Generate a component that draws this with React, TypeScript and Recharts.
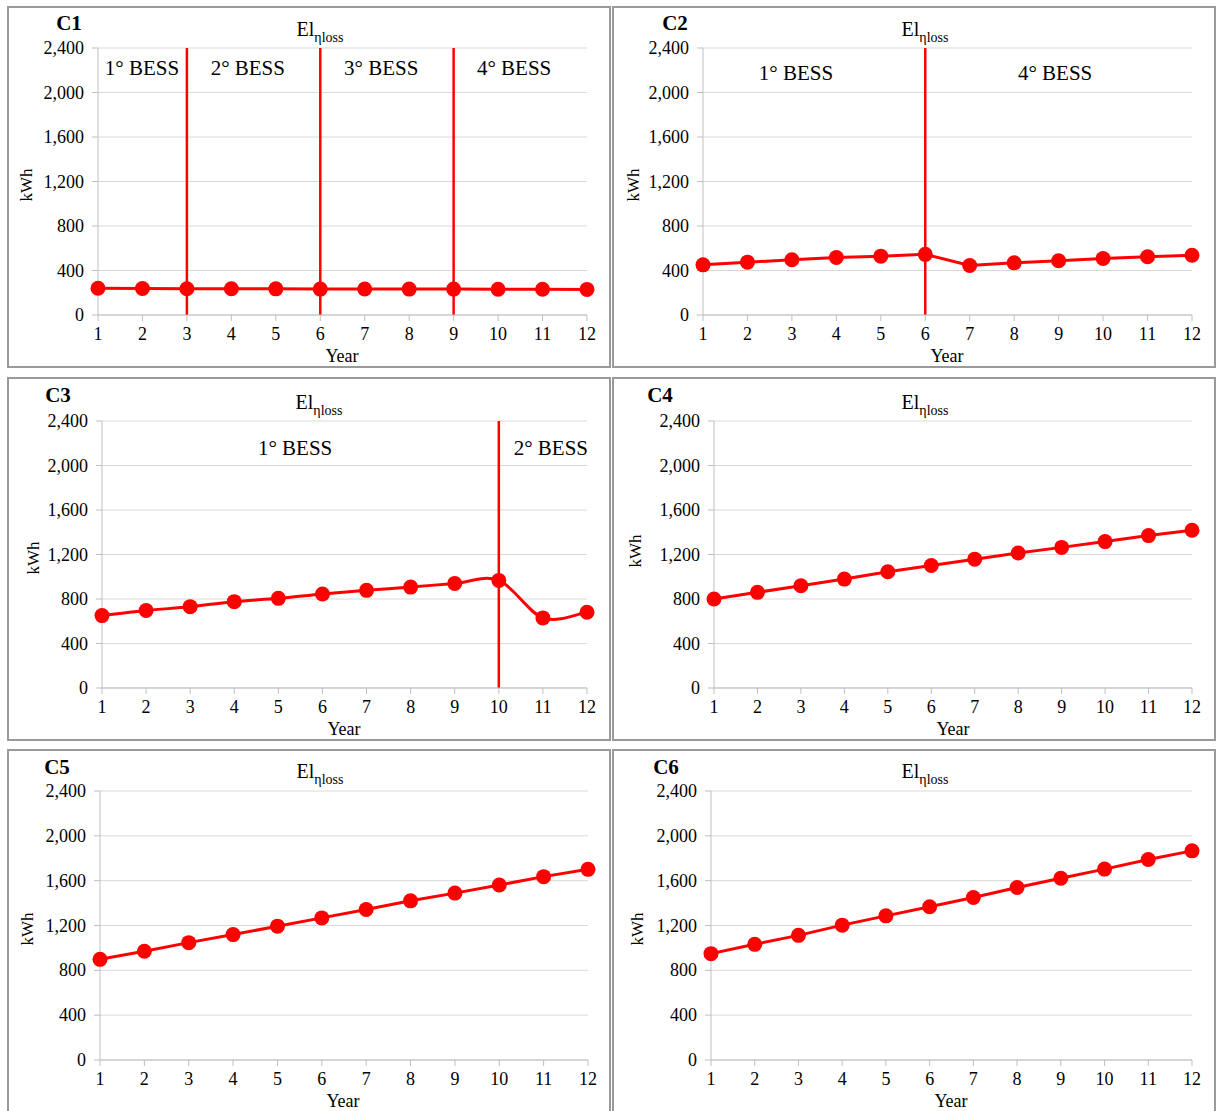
import React from 'react';
import { LineChart, Line, XAxis, YAxis, CartesianGrid, ReferenceLine, ReferenceDot } from 'recharts';

const years = [1, 2, 3, 4, 5, 6, 7, 8, 9, 10, 11, 12];
const yTicks = [0, 400, 800, 1200, 1600, 2000, 2400];

const c1Values = [241, 238, 236, 236, 235, 233, 234, 233, 233, 232, 232, 230];
const c2Values = [451, 475, 496, 517, 529, 545, 445, 469, 487, 508, 523, 537];
const c3Values = [651, 696, 731, 776, 806, 845, 878, 907, 940, 967, 630, 681];
const c4Values = [800, 860, 919, 979, 1045, 1101, 1158, 1213, 1264, 1316, 1370, 1418];
const c5Values = [898, 970, 1047, 1119, 1194, 1268, 1343, 1420, 1489, 1561, 1636, 1701];
const c6Values = [949, 1032, 1112, 1203, 1286, 1367, 1450, 1539, 1622, 1703, 1789, 1866];

const c1Replacements = [3, 6, 9];
const c2Replacements = [6];
const c3Replacements = [10];

const c1Labels = [
  { x: 1.99, y: 2220, text: '1° BESS' },
  { x: 4.37, y: 2220, text: '2° BESS' },
  { x: 7.37, y: 2220, text: '3° BESS' },
  { x: 10.36, y: 2220, text: '4° BESS' },
];
const c2Labels = [
  { x: 3.09, y: 2175, text: '1° BESS' },
  { x: 8.92, y: 2175, text: '4° BESS' },
];
const c3Labels = [
  { x: 5.38, y: 2157, text: '1° BESS' },
  { x: 11.18, y: 2157, text: '2° BESS' },
];

const FONT = '"Liberation Serif", "Times New Roman", serif';
const RED = '#ff0000';

// Excel-like smoothed line (Catmull-Rom style bezier)
function excelSmooth(context: any) {
  let pts: number[][] = [];
  return {
    areaStart() {},
    areaEnd() {},
    lineStart() { pts = []; },
    point(x: number, y: number) { pts.push([x, y]); },
    lineEnd() {
      if (!pts.length) return;
      context.moveTo(pts[0][0], pts[0][1]);
      const t = 1 / 6;
      for (let i = 0; i < pts.length - 1; i++) {
        const p0 = pts[i - 1] || pts[i];
        const p1 = pts[i];
        const p2 = pts[i + 1];
        const p3 = pts[i + 2] || p2;
        context.bezierCurveTo(
          p1[0] + (p2[0] - p0[0]) * t, p1[1] + (p2[1] - p0[1]) * t,
          p2[0] - (p3[0] - p1[0]) * t, p2[1] - (p3[1] - p1[1]) * t,
          p2[0], p2[1]
        );
      }
    },
  };
}

type Panel = {
  name: string;
  values: number[];
  box: { x: number; y: number; w: number; h: number };
  plot: { l: number; r: number; t: number; b: number };
  refs: number[];
  labels: { x: number; y: number; text: string }[];
  smooth?: boolean;
  cPos: [number, number];
  titlePos: [number, number];
  kwhPos: [number, number];
  yearPos: [number, number];
};

const panels: Panel[] = [
  {
    name: 'C1', values: c1Values,
    box: { x: 7, y: 6, w: 604, h: 362 }, plot: { l: 98, r: 587, t: 48, b: 315 },
    refs: c1Replacements, labels: c1Labels,
    cPos: [69, 23], titlePos: [320, 29], kwhPos: [26, 185], yearPos: [342, 356],
  },
  {
    name: 'C2', values: c2Values,
    box: { x: 612, y: 6, w: 604, h: 362 }, plot: { l: 703, r: 1192, t: 48, b: 315 },
    refs: c2Replacements, labels: c2Labels,
    cPos: [675, 23], titlePos: [925, 29], kwhPos: [633, 185], yearPos: [947, 356],
  },
  {
    name: 'C3', values: c3Values,
    box: { x: 7, y: 377, w: 604, h: 364 }, plot: { l: 102, r: 587, t: 421, b: 688 },
    refs: c3Replacements, labels: c3Labels, smooth: true,
    cPos: [58, 395], titlePos: [319, 402], kwhPos: [33, 558], yearPos: [344, 729],
  },
  {
    name: 'C4', values: c4Values,
    box: { x: 612, y: 377, w: 604, h: 364 }, plot: { l: 714, r: 1192, t: 421, b: 688 },
    refs: [], labels: [],
    cPos: [660, 395], titlePos: [925, 402], kwhPos: [635, 551], yearPos: [953, 729],
  },
  {
    name: 'C5', values: c5Values,
    box: { x: 7, y: 749, w: 604, h: 380 }, plot: { l: 100, r: 588, t: 791, b: 1060 },
    refs: [], labels: [],
    cPos: [57, 767], titlePos: [320, 771], kwhPos: [27, 929], yearPos: [343, 1101],
  },
  {
    name: 'C6', values: c6Values,
    box: { x: 612, y: 749, w: 604, h: 380 }, plot: { l: 711, r: 1192, t: 791, b: 1060 },
    refs: [], labels: [],
    cPos: [666, 767], titlePos: [925, 771], kwhPos: [637, 929], yearPos: [951, 1101],
  },
];

const Y_W = 70;
const X_H = 40;

const fmt = (v: number) => v.toLocaleString('en-US');

function XTick(props: any) {
  const { x, y, payload } = props;
  return (
    <text x={x} y={y} dy={15} textAnchor="middle" fontFamily={FONT} fontSize={18} fill="#000">
      {payload.value}
    </text>
  );
}

function YTick(props: any) {
  const { x, y, payload } = props;
  return (
    <text x={x} y={y} dy={6} textAnchor="end" fontFamily={FONT} fontSize={18} fill="#000">
      {fmt(payload.value)}
    </text>
  );
}

function centered(x: number, y: number, extra: React.CSSProperties = {}): React.CSSProperties {
  return {
    position: 'absolute', left: x, top: y, transform: 'translate(-50%, -50%)',
    whiteSpace: 'nowrap', fontFamily: FONT, color: '#000', lineHeight: 1, ...extra,
  };
}

function PanelChart({ p }: { p: Panel }) {
  const data = years.map((yr, i) => ({ year: yr, v: p.values[i] }));
  const margin = {
    left: p.plot.l - p.box.x - Y_W,
    right: p.box.x + p.box.w - p.plot.r,
    top: p.plot.t - p.box.y,
    bottom: p.box.y + p.box.h - p.plot.b - X_H,
  };
  return (
    <>
      <div style={{
        position: 'absolute', left: p.box.x, top: p.box.y, width: p.box.w, height: p.box.h,
        boxSizing: 'border-box', border: '2px solid #9a9a9a', background: '#fff',
      }} />
      <div style={{ position: 'absolute', left: p.box.x, top: p.box.y, fontFamily: FONT }}>
        <LineChart width={p.box.w} height={p.box.h} data={data} margin={margin} style={{ fontFamily: FONT }}>
          <CartesianGrid vertical={false} stroke="#d9d9d9" strokeWidth={1} />
          <XAxis
            dataKey="year" type="number" domain={[1, 12]} ticks={years} interval={0}
            height={X_H} tick={<XTick />} tickSize={6} tickMargin={4}
            axisLine={{ stroke: '#bfbfbf' }} tickLine={{ stroke: '#bfbfbf' }}
          />
          <YAxis
            type="number" domain={[0, 2400]} ticks={yTicks} interval={0} width={Y_W}
            tick={<YTick />} tickSize={6} tickMargin={8}
            axisLine={{ stroke: '#bfbfbf' }} tickLine={{ stroke: '#bfbfbf' }}
          />
          {p.refs.map((r) => (
            <ReferenceLine key={r} x={r} stroke={RED} strokeWidth={2.5} />
          ))}
          {p.labels.map((l) => (
            <ReferenceDot
              key={l.text} x={l.x} y={l.y} r={0} fill="none" stroke="none"
              label={{ value: l.text, position: 'center', fill: '#000', fontSize: 21, fontFamily: FONT }}
            />
          ))}
          <Line
            dataKey="v" type={p.smooth ? (excelSmooth as any) : 'linear'}
            stroke={RED} strokeWidth={3}
            dot={{ r: 7.5, fill: RED, stroke: RED, strokeWidth: 0 }}
            activeDot={false} isAnimationActive={false}
          />
        </LineChart>
      </div>
      <div style={centered(p.cPos[0], p.cPos[1], { fontSize: 21, fontWeight: 'bold' })}>{p.name}</div>
      <div style={centered(p.titlePos[0], p.titlePos[1], { fontSize: 20 })}>
        El<span style={{ fontSize: 14, position: 'relative', top: 6 }}>ηloss</span>
      </div>
      <div style={centered(p.kwhPos[0], p.kwhPos[1], { fontSize: 17, transform: 'translate(-50%, -50%) rotate(-90deg)' })}>kWh</div>
      <div style={centered(p.yearPos[0], p.yearPos[1], { fontSize: 18 })}>Year</div>
    </>
  );
}

export default function App() {
  return (
    <div style={{ position: 'fixed', left: 0, top: 0, width: 1218, height: 1111, overflow: 'hidden', background: '#fff' }}>
      {panels.map((p) => (
        <PanelChart key={p.name} p={p} />
      ))}
    </div>
  );
}
